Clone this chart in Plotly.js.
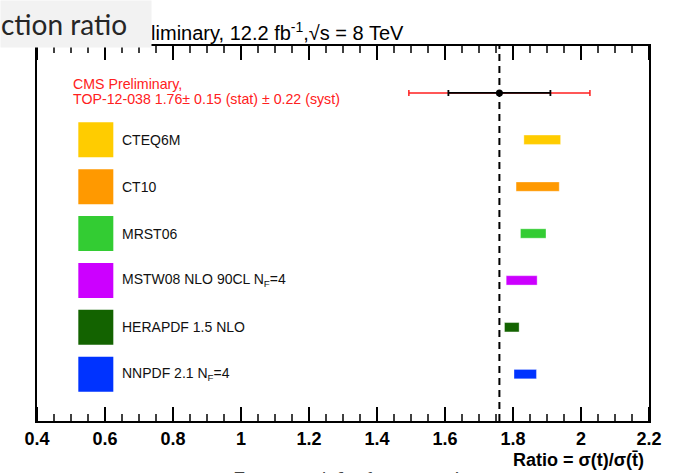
<!DOCTYPE html>
<html><head><meta charset="utf-8">
<script src="https://cdn.plot.ly/plotly-3.0.1.min.js"></script>
<style>html,body{margin:0;padding:0;background:#fff}#chart{width:675px;height:473px}</style>
</head><body><div id="chart"></div><script>
// ---- data ----
const pdfNames = ['CTEQ6M', 'CT10', 'MRST06', 'MSTW08 NLO 90CL N<sub>F</sub>=4', 'HERAPDF 1.5 NLO', 'NNPDF 2.1 N<sub>F</sub>=4'];
const pdfLow  = [1.832, 1.809, 1.822, 1.780, 1.775, 1.803];
const pdfHigh = [1.940, 1.936, 1.897, 1.871, 1.818, 1.869];
const pdfColors = ['#FFCC00', '#FF9900', '#33CC33', '#CC00FF', '#136300', '#0033FF'];
const measValue = [1.76];
const measStat = [0.15];
const measSyst = [0.22];
const measLines = ['CMS Preliminary,', 'TOP-12-038 1.76\u00b1 0.15 (stat) \u00b1 0.22 (syst)'];
const titleText = 'CMS Preliminary, 12.2 fb<sup>-1</sup>,\u221As = 8 TeV';
const xTitle = 'Ratio = \u03c3(t)/\u03c3(t\u0304)';
const xTicks = [0.4, 0.6, 0.8, 1.0, 1.2, 1.4, 1.6, 1.8, 2.0, 2.2];
const xTickLabels = ['0.4', '0.6', '0.8', '1', '1.2', '1.4', '1.6', '1.8', '2', '2.2'];
const minorPerMajor = 4;

// ---- derived ----
const nRows = pdfNames.length;
const rows = pdfNames.map((_, i) => nRows - i);        // 6..1
const measRow = [nRows + 1];                            // 7
const measTot = measStat.map((s, i) => Math.sqrt(s * s + measSyst[i] * measSyst[i]));
const swatchX = 0.573, labelX = 0.645, measTextX = 0.5;
const yRange = [0, 8];
const minorTickVals = [];
for (let i = 0; i < xTicks.length - 1; i++) {
  const step = (xTicks[i + 1] - xTicks[i]) / minorPerMajor;
  for (let k = 1; k < minorPerMajor; k++) minorTickVals.push(xTicks[i] + k * step);
}
const tickTrace = (vals, size, width) => ({
  type: 'scatter', mode: 'markers', cliponaxis: true, hoverinfo: 'skip',
  x: vals.concat(vals), y: vals.map(() => yRange[0]).concat(vals.map(() => yRange[1])),
  marker: { symbol: 'line-ns', size: size, color: '#000', line: { color: '#000', width: width } }
});

const traces = [
  { type: 'bar', orientation: 'h', y: rows, base: pdfLow,
    x: pdfHigh.map((h, i) => h - pdfLow[i]), width: 0.2,
    marker: { color: pdfColors, line: { color: 'rgba(255,255,255,0.35)', width: 1 } },
    hoverinfo: 'skip' },
  { type: 'scatter', mode: 'markers', x: rows.map(() => swatchX), y: rows,
    marker: { symbol: 'square', size: 35, color: pdfColors, line: { width: 0 } }, hoverinfo: 'skip' },
  { type: 'scatter', mode: 'markers', x: measValue, y: measRow,
    marker: { size: 1, color: 'rgba(0,0,0,0)' },
    error_x: { type: 'data', symmetric: true, array: measTot, color: '#ff2020', thickness: 1.5, width: 3 } },
  { type: 'scatter', mode: 'markers', x: measValue, y: measRow,
    marker: { size: 7, color: '#000' },
    error_x: { type: 'data', symmetric: true, array: measStat, color: '#000', thickness: 1.8, width: 3 } },
  tickTrace(xTicks, 20, 2),
  tickTrace(minorTickVals, 10, 1.5)
];

const annotations = [];
pdfNames.forEach((n, i) => annotations.push({ x: labelX, y: rows[i], xref: 'x', yref: 'y', text: n,
  xanchor: 'left', yanchor: 'middle', showarrow: false,
  font: { family: 'Liberation Sans, Arial, sans-serif', size: 14, color: '#111' } }));
annotations.push({ x: measTextX, y: measRow[0] + 0.185, xref: 'x', yref: 'y', text: measLines[0],
  xanchor: 'left', yanchor: 'middle', showarrow: false,
  font: { family: 'Liberation Sans, Arial, sans-serif', size: 14.2, color: '#ff2020' } });
annotations.push({ x: measTextX, y: measRow[0] - 0.14, xref: 'x', yref: 'y', text: measLines[1],
  xanchor: 'left', yanchor: 'middle', showarrow: false,
  font: { family: 'Liberation Sans, Arial, sans-serif', size: 14.2, color: '#ff2020' } });
annotations.push({ x: (68 - 37) / 612, y: 1 + (46 - 32) / 375, xref: 'paper', yref: 'paper', text: titleText,
  xanchor: 'left', yanchor: 'middle', showarrow: false,
  font: { family: 'Liberation Sans, Arial, sans-serif', size: 20, color: '#000' } });
annotations.push({ x: -37 / 612, y: 1 + 46 / 375, xref: 'paper', yref: 'paper', text: 'ction ratio',
  xanchor: 'left', yanchor: 'top', showarrow: false, width: 150, height: 46, borderpad: 0,
  bgcolor: '#f2f2f2', align: 'left', valign: 'middle',
  font: { family: 'Lato, Open Sans, sans-serif', size: 28, color: '#262626' } });
annotations.push({ x: (646 - 37) / 612, y: -(460 - 421) / 375, xref: 'paper', yref: 'paper', text: '<b>' + xTitle + '</b>',
  xanchor: 'right', yanchor: 'middle', showarrow: false,
  font: { family: 'Liberation Sans, Arial, sans-serif', size: 18, color: '#000' } });
annotations.push({ x: (356 - 37) / 612, y: -(465 - 421) / 375, xref: 'paper', yref: 'paper', text: 'Z mass peak fit after correction',
  xanchor: 'center', yanchor: 'top', showarrow: false,
  font: { family: 'Lato, Open Sans, sans-serif', size: 18, color: '#444' } });

const layout = {
  width: 675, height: 473,
  margin: { l: 37, r: 26, t: 46, b: 52 },
  showlegend: false,
  xaxis: { range: [xTicks[0], xTicks[xTicks.length - 1]], tickmode: 'array', tickvals: xTicks,
    ticktext: xTickLabels.map(t => '<b>' + t + '</b>'), ticks: '',
    showline: true, linecolor: '#000', linewidth: 2, mirror: true,
    showgrid: false, zeroline: false,
    tickfont: { family: 'Liberation Sans, Arial, sans-serif', size: 18, color: '#000' } },
  yaxis: { range: yRange, showline: true, linecolor: '#000', linewidth: 2, mirror: true,
    showticklabels: false, ticks: '', showgrid: false, zeroline: false },
  shapes: [{ type: 'line', xref: 'x', yref: 'paper', x0: measValue[0], x1: measValue[0], y0: 0, y1: 1,
    line: { color: '#000', width: 2, dash: '7px,5px' } }],
  annotations: annotations
};

Plotly.newPlot('chart', traces, layout, { staticPlot: true, displayModeBar: false });
</script></body></html>
